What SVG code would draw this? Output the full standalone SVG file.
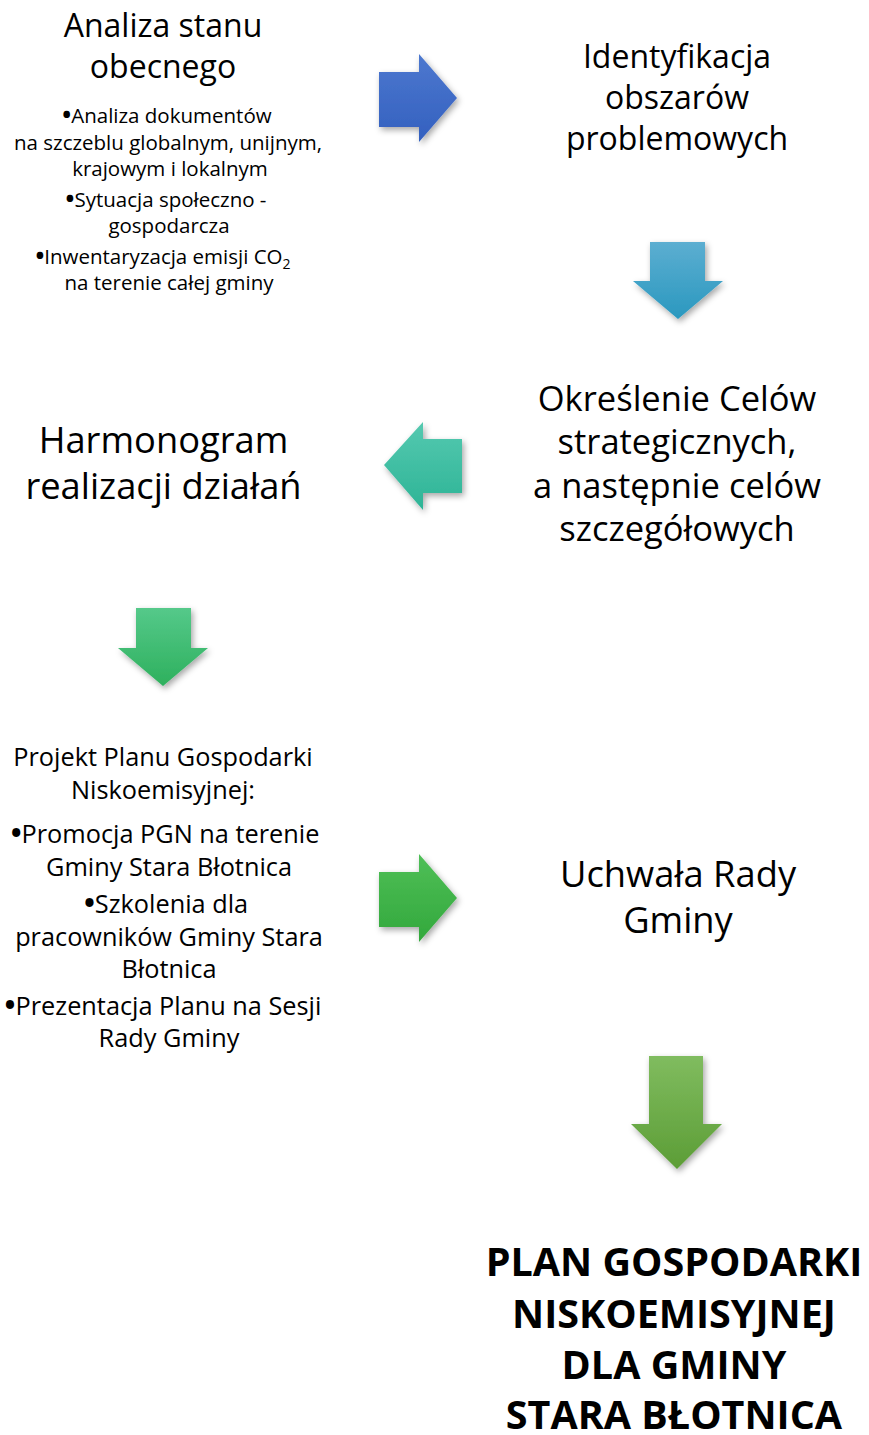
<svg xmlns="http://www.w3.org/2000/svg" width="869" height="1435" viewBox="0 0 869 1435">
<style>
text{font-family:"Open Sans","Noto Sans","DejaVu Sans",sans-serif;fill:#000;text-anchor:middle}
.h{font-size:32px}
.big{font-size:36.3px}
.mid{font-size:34.5px}
.s{font-size:20.5px}
.m{font-size:25.3px}
.b{font-size:39.5px;font-weight:700}
.bu{font-weight:700;font-size:1.15em}
</style>
<defs>
<filter id="sh" x="-30%" y="-30%" width="160%" height="160%">
<feDropShadow dx="2" dy="3" stdDeviation="3" flood-color="#000" flood-opacity="0.35"/>
</filter>
<linearGradient id="g1" x1="0" y1="0" x2="0" y2="1"><stop offset="0" stop-color="#4d78cf"/><stop offset="1" stop-color="#3360bf"/></linearGradient>
<linearGradient id="g2" x1="0" y1="0" x2="0" y2="1"><stop offset="0" stop-color="#5caed1"/><stop offset="1" stop-color="#2a98bf"/></linearGradient>
<linearGradient id="g3" x1="0" y1="0" x2="0" y2="1"><stop offset="0" stop-color="#55c9b0"/><stop offset="1" stop-color="#2db496"/></linearGradient>
<linearGradient id="g4" x1="0" y1="0" x2="0" y2="1"><stop offset="0" stop-color="#55c98a"/><stop offset="1" stop-color="#2eb05d"/></linearGradient>
<linearGradient id="g5" x1="0" y1="0" x2="0" y2="1"><stop offset="0" stop-color="#4fbf57"/><stop offset="1" stop-color="#32a83c"/></linearGradient>
<linearGradient id="g6" x1="0" y1="0" x2="0" y2="1"><stop offset="0" stop-color="#80bc5f"/><stop offset="1" stop-color="#5c9d36"/></linearGradient>
</defs>

<g id="connectors" filter="url(#sh)">
<polygon id="arrow1" fill="url(#g1)" points="379,72 419,72 419,54 457,98 419,142 419,127 379,127"/>
<polygon id="arrow2" fill="url(#g2)" points="650,242 705,242 705,281 723,281 678,319 633,281 650,281"/>
<polygon id="arrow3" fill="url(#g3)" points="462,439 423,439 423,422 384,465 423,510 423,493 462,493"/>
<polygon id="arrow4" fill="url(#g4)" points="136,608 191,608 191,648 208,648 163,686 118,648 136,648"/>
<polygon id="arrow5" fill="url(#g5)" points="379,872 419,872 419,854 457,898 419,942 419,927 379,927"/>
<polygon id="arrow6" fill="url(#g6)" points="649,1056 703,1056 703,1124 722,1124 677,1169 631,1124 649,1124"/>
</g>

<g id="node-analiza">
<text class="h" x="163" y="37">Analiza stanu</text>
<text class="h" x="163" y="78">obecnego</text>
<text class="s" x="167" y="123"><tspan class="bu">•</tspan>Analiza dokumentów</text>
<text class="s" x="168" y="150">na szczeblu globalnym, unijnym,</text>
<text class="s" x="170" y="176">krajowym i lokalnym</text>
<text class="s" x="166" y="207"><tspan class="bu">•</tspan>Sytuacja społeczno -</text>
<text class="s" x="169" y="233">gospodarcza</text>
<text class="s" x="163" y="264"><tspan class="bu">•</tspan>Inwentaryzacja emisji CO<tspan font-size="14" dy="5">2</tspan></text>
<text class="s" x="169" y="290">na terenie całej gminy</text>
</g>

<g id="node-identyfikacja">
<text class="h" x="677" y="68">Identyfikacja</text>
<text class="h" x="677" y="109">obszarów</text>
<text class="h" x="677" y="150">problemowych</text>
</g>

<g id="node-okreslenie">
<text class="mid" x="677" y="411">Określenie Celów</text>
<text class="mid" x="677" y="454">strategicznych,</text>
<text class="mid" x="677" y="498">a następnie celów</text>
<text class="mid" x="677" y="541">szczegółowych</text>
</g>

<g id="node-harmonogram">
<text class="big" x="163.5" y="453">Harmonogram</text>
<text class="big" x="163.5" y="499">realizacji działań</text>
</g>

<g id="node-projekt">
<text class="m" x="163" y="766">Projekt Planu Gospodarki</text>
<text class="m" x="163" y="799">Niskoemisyjnej:</text>
<text class="m" x="165" y="843"><tspan class="bu">•</tspan>Promocja PGN na terenie</text>
<text class="m" x="169" y="876">Gminy Stara Błotnica</text>
<text class="m" x="166" y="913"><tspan class="bu">•</tspan>Szkolenia dla</text>
<text class="m" x="169" y="946">pracowników Gminy Stara</text>
<text class="m" x="169" y="978">Błotnica</text>
<text class="m" x="163" y="1015"><tspan class="bu">•</tspan>Prezentacja Planu na Sesji</text>
<text class="m" x="169" y="1047">Rady Gminy</text>
</g>

<g id="node-uchwala">
<text class="big" x="678" y="887">Uchwała Rady</text>
<text class="big" x="678" y="933">Gminy</text>
</g>

<g id="node-plan">
<text class="b" x="674" y="1276">PLAN GOSPODARKI</text>
<text class="b" x="674" y="1328">NISKOEMISYJNEJ</text>
<text class="b" x="674" y="1379">DLA GMINY</text>
<text class="b" x="674" y="1429">STARA BŁOTNICA</text>
</g>
</svg>
